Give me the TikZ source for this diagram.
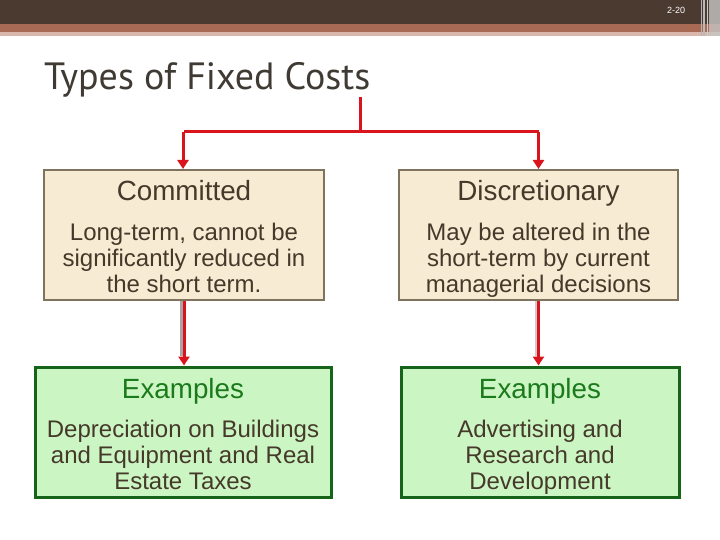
\documentclass[tikz,border=0pt]{standalone}
\usepackage{fontspec}
\setmainfont{Liberation Sans}
\newfontfamily\titlefont{PT Sans}
\usetikzlibrary{arrows.meta}
\definecolor{hdrdark}{HTML}{4B3A2F}
\definecolor{hdrmid}{HTML}{A86A55}
\definecolor{hdrlight}{HTML}{D9B7AC}
\definecolor{titlecol}{HTML}{3F3A33}
\definecolor{txtcol}{HTML}{45392A}
\definecolor{beige}{HTML}{F8EBD4}
\definecolor{beigeedge}{HTML}{7F7360}
\definecolor{lgreen}{HTML}{CCF5C4}
\definecolor{dgreen}{HTML}{16641A}
\definecolor{hgreen}{HTML}{1B7A1B}
\definecolor{arrred}{HTML}{D9141C}
\tikzset{
  tanbox/.style={draw=beigeedge, line width=2pt, fill=beige, inner sep=0pt},
  greenbox/.style={draw=dgreen, line width=3pt, fill=lgreen, inner sep=0pt},
  headtxt/.style={font=\fontsize{27.8}{30}\selectfont, text=txtcol, inner sep=0pt, anchor=base},
  bodytxt/.style={font=\fontsize{24}{26}\selectfont, text=txtcol, align=center, inner sep=0pt, anchor=base},
  redline/.style={draw=arrred, line width=3pt},
  redarrow/.style={draw=arrred, line width=3pt, -{Triangle[width=11pt,length=9pt]}},
  shadowline/.style={draw=gray!70, line width=2.5pt},
}
\begin{document}
\begin{tikzpicture}[x=1pt,y=-1pt]
\useasboundingbox (0,0) rectangle (720,540);
\fill[white] (0,0) rectangle (720,540);
% header bands
\fill[hdrdark] (0,0) rectangle (720,24);
\fill[hdrmid] (0,24) rectangle (720,32);
\fill[hdrlight] (0,32) rectangle (720,36);
\fill[gray!45, opacity=0.8] (709,0) rectangle (720,36);
\draw[gray!60, line width=1pt] (701,0) -- (701,36);
\draw[gray!55, line width=1.2pt] (704,0) -- (704,36);
\draw[gray!40, line width=0.8pt] (707,0) -- (707,36);
\node[font=\fontsize{9}{10}\selectfont, text=white, inner sep=0pt] (pg) at (676,10) {2-20};
% title
\node[anchor=base west, font=\titlefont\fontsize{38}{40}\selectfont, text=titlecol, inner sep=0pt] (title) at (44,90) {Types of Fixed Costs};
\coordinate (tsrc) at (360,97);
\coordinate (tj) at (360,132);
% boxes
\node[tanbox, minimum width=280, minimum height=130] (com) at (184,235) {};
\node[tanbox, minimum width=279, minimum height=130] (dis) at (538.5,235) {};
\node[greenbox, minimum width=296, minimum height=130] (cex) at (183,432) {};
\node[greenbox, minimum width=278, minimum height=130] (dex) at (540,432) {};
% texts
\node[headtxt] (comh) at (184,201) {Committed};
\node[bodytxt] (comb) at (184,292) {Long-term, cannot be\\significantly reduced in\\the short term.};
\node[headtxt] (dish) at (538.5,201) {Discretionary};
\node[bodytxt] (disb) at (538.5,292) {May be altered in the\\short-term by current\\managerial decisions};
\node[headtxt, text=hgreen] (cexh) at (183,398) {Examples};
\node[bodytxt] (cexb) at (183,489) {Depreciation on Buildings\\and Equipment and Real\\Estate Taxes};
\node[headtxt, text=hgreen] (dexh) at (540,398) {Examples};
\node[bodytxt] (dexb) at (540,489) {Advertising and\\Research and\\Development};
% connectors
\draw[redline] (tsrc) -- (tj);
\draw[redline] (com.north |- tj) -- (dis.north |- tj);
\draw[redarrow] ([xshift=-1]com.north |- tj) -- ([xshift=-1]com.north);
\draw[redarrow] (dis.north |- tj) -- (dis.north);
\draw[shadowline] ([xshift=-2.5]com.south) -- ([xshift=-2.5,yshift=10]cex.north -| com.south);
\draw[redarrow] (com.south) -- (cex.north -| com.south);
\draw[shadowline, gray!40] ([xshift=-2]dis.south) -- ([xshift=-2,yshift=10]dex.north -| dis.south);
\draw[redarrow] (dis.south) -- (dex.north -| dis.south);
\end{tikzpicture}
\end{document}
